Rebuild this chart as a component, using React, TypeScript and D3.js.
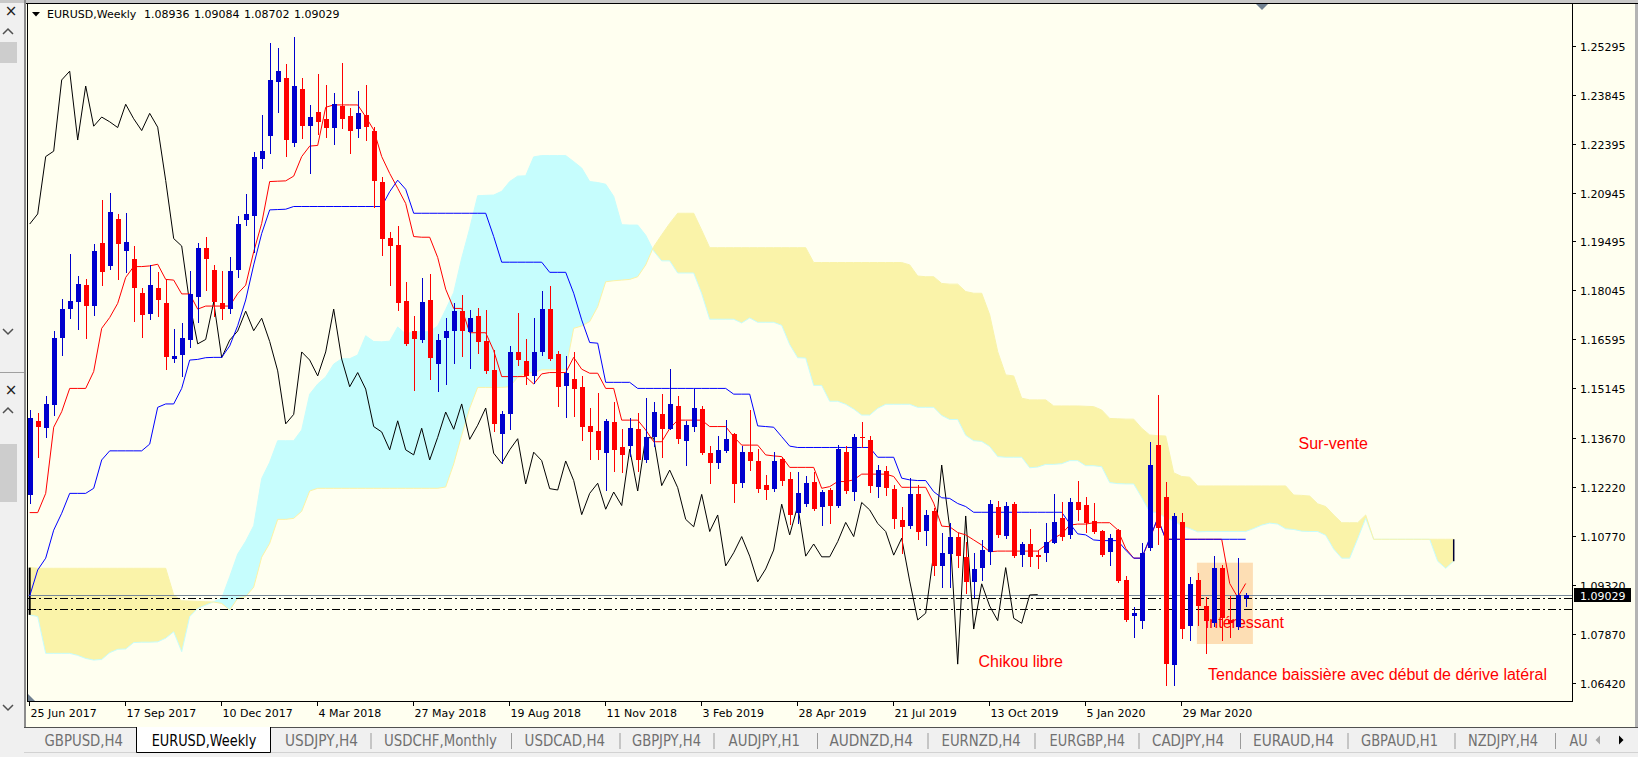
import React from "react";
import * as d3 from "d3";

// ---------- DATA (EURUSD Weekly, bar 0 = week of 25 Jun 2017) ----------
const opens = [
  1.1198, 1.1417, 1.1396, 1.1465, 1.1662, 1.1748, 1.1771, 1.182, 1.1759, 1.1945,
  1.1878, 1.2015, 1.1922, 1.1896, 1.1796, 1.1735, 1.1811, 1.1766, 1.1602, 1.1612,
  1.1656, 1.1786, 1.1929, 1.1865, 1.1766, 1.175, 1.1865, 1.2013, 1.2026, 1.2194,
  1.2262, 1.2423, 1.2434, 1.2242, 1.2401, 1.2291, 1.2333, 1.2313, 1.2287, 1.2351,
  1.232, 1.2282, 1.2324, 1.2277, 1.2125, 1.1959, 1.1939, 1.1773, 1.1684, 1.1657,
  1.1776, 1.1586, 1.1662, 1.1685, 1.1743, 1.1682, 1.1729, 1.1655, 1.1569, 1.1379,
  1.1438, 1.1622, 1.1596, 1.1551, 1.1621, 1.1749, 1.1616, 1.1521, 1.1542, 1.1517,
  1.1404, 1.1388, 1.1324, 1.1414, 1.1341, 1.1342, 1.1393, 1.1302, 1.1369, 1.1438,
  1.1395, 1.1462, 1.1359, 1.1401, 1.1453, 1.1324, 1.1292, 1.133, 1.1379, 1.1235,
  1.1325, 1.1299, 1.1228, 1.1215, 1.1305, 1.1246, 1.1146, 1.1172, 1.1237, 1.1162,
  1.1213, 1.1166, 1.1325, 1.1208, 1.1371, 1.1361, 1.1223, 1.127, 1.1215, 1.1124,
  1.1106, 1.12, 1.1092, 1.1151, 1.0988, 1.1023, 1.1075, 1.1013, 1.0941, 1.0981,
  1.103, 1.1162, 1.1077, 1.1171, 1.102, 1.1053, 1.102, 1.1025, 1.1057, 1.1129,
  1.1079, 1.1176, 1.1168, 1.1121, 1.1092, 1.103, 1.1095, 1.0946, 1.084, 1.0826,
  1.1042, 1.1346, 1.1193, 1.0694, 1.1119, 1.081, 1.0946, 1.0869, 1.0818, 1.0983,
  1.0828, 1.0808, 1.08936,
];
const highs = [
  1.145, 1.144, 1.1491, 1.1684, 1.1778, 1.1912, 1.1847, 1.1838, 1.1942, 1.2072,
  1.2092, 1.2031, 1.2035, 1.1936, 1.1813, 1.188, 1.1859, 1.1837, 1.169, 1.1707,
  1.1862, 1.1944, 1.1962, 1.1879, 1.1862, 1.1902, 1.2025, 1.209, 1.2216, 1.2324,
  1.2538, 1.2523, 1.2475, 1.2556, 1.2434, 1.2353, 1.2446, 1.2413, 1.239, 1.2479,
  1.2345, 1.2396, 1.2413, 1.2288, 1.2141, 1.1977, 1.1995, 1.1829, 1.1728, 1.1842,
  1.1852, 1.1675, 1.1724, 1.1766, 1.1791, 1.1746, 1.1751, 1.1746, 1.1628, 1.1447,
  1.164, 1.1737, 1.1659, 1.1724, 1.1803, 1.1818, 1.1626, 1.161, 1.1622, 1.1551,
  1.1457, 1.1501, 1.1422, 1.1474, 1.1393, 1.1425, 1.1442, 1.1486, 1.1474, 1.1498,
  1.1572, 1.1492, 1.1418, 1.1512, 1.1462, 1.1343, 1.1373, 1.142, 1.1381, 1.1343,
  1.145, 1.1334, 1.1258, 1.1325, 1.1312, 1.1267, 1.1267, 1.1254, 1.1266, 1.1213,
  1.1218, 1.1346, 1.1342, 1.1378, 1.1415, 1.1373, 1.1287, 1.1284, 1.1228, 1.1162,
  1.125, 1.1228, 1.1154, 1.1159, 1.1087, 1.1114, 1.1087, 1.106, 1.1025, 1.1065,
  1.1183, 1.1181, 1.1176, 1.1176, 1.106, 1.1097, 1.1033, 1.1116, 1.12, 1.1177,
  1.1188, 1.1241, 1.1193, 1.1174, 1.1095, 1.1083, 1.1097, 1.0958, 1.0865, 1.1055,
  1.1356, 1.1495, 1.1238, 1.1146, 1.1144, 1.0956, 1.0966, 1.0897, 1.1017, 1.0991,
  1.0899, 1.1011, 1.09084,
];
const lows = [
  1.1174, 1.1312, 1.1371, 1.1435, 1.1613, 1.1722, 1.1689, 1.1662, 1.1731, 1.182,
  1.1867, 1.1837, 1.186, 1.1715, 1.1667, 1.1719, 1.173, 1.1573, 1.1593, 1.1551,
  1.1636, 1.1712, 1.1807, 1.1729, 1.1719, 1.1737, 1.1845, 1.1998, 1.1919, 1.2166,
  1.2213, 1.2334, 1.2203, 1.2232, 1.2256, 1.2153, 1.2268, 1.226, 1.2238, 1.2285,
  1.2213, 1.226, 1.225, 1.2053, 1.1909, 1.182, 1.1746, 1.1643, 1.1509, 1.1652,
  1.1542, 1.1507, 1.1526, 1.159, 1.161, 1.1574, 1.162, 1.1559, 1.1389, 1.1294,
  1.1395, 1.1583, 1.1527, 1.1531, 1.1613, 1.1598, 1.1462, 1.143, 1.1432, 1.1361,
  1.1304, 1.1304, 1.1213, 1.127, 1.1267, 1.1314, 1.127, 1.1297, 1.1342, 1.131,
  1.1393, 1.1353, 1.1287, 1.1389, 1.132, 1.1235, 1.1277, 1.1327, 1.1176, 1.1221,
  1.1272, 1.1208, 1.1185, 1.1211, 1.1228, 1.1112, 1.1114, 1.1166, 1.1154, 1.1109,
  1.1116, 1.1162, 1.1203, 1.1183, 1.1341, 1.1208, 1.1193, 1.1198, 1.1101, 1.1027,
  1.1101, 1.1067, 1.105, 1.0961, 1.0927, 1.0927, 1.0986, 1.0907, 1.0897, 1.0946,
  1.0993, 1.1075, 1.107, 1.1015, 1.0989, 1.0988, 1.0981, 1.1004, 1.1055, 1.1065,
  1.107, 1.1124, 1.109, 1.1085, 1.1017, 1.0991, 1.094, 1.0826, 1.0778, 1.0803,
  1.1035, 1.1053, 1.0635, 1.0635, 1.0774, 1.0769, 1.0813, 1.0729, 1.081, 1.0769,
  1.0777, 1.08, 1.08702,
];
const closes = [
  1.1425, 1.1401, 1.1468, 1.1662, 1.1749, 1.1773, 1.1823, 1.1759, 1.1921, 1.186,
  1.2036, 1.1942, 1.1948, 1.1812, 1.1731, 1.182, 1.1776, 1.1608, 1.161, 1.1662,
  1.1794, 1.193, 1.1897, 1.1771, 1.175, 1.1862, 1.2001, 1.2031, 1.2201, 1.2217,
  1.2428, 1.2454, 1.225, 1.241, 1.2291, 1.2318, 1.2304, 1.2287, 1.2356, 1.2313,
  1.2278, 1.2329, 1.2288, 1.213, 1.1958, 1.1936, 1.1766, 1.1646, 1.1659, 1.177,
  1.1605, 1.1657, 1.1684, 1.1743, 1.1685, 1.1722, 1.1653, 1.1566, 1.1409, 1.1437,
  1.1622, 1.1598, 1.1551, 1.1622, 1.1749, 1.1601, 1.1519, 1.1561, 1.1512, 1.1401,
  1.1385, 1.1332, 1.1418, 1.1332, 1.1317, 1.1396, 1.1302, 1.1369, 1.1444, 1.1393,
  1.1468, 1.1363, 1.1405, 1.1456, 1.1322, 1.1292, 1.1332, 1.1365, 1.1231, 1.1325,
  1.13, 1.1217, 1.1213, 1.1299, 1.1241, 1.114, 1.1203, 1.1233, 1.1156, 1.1207,
  1.1167, 1.1334, 1.121, 1.1369, 1.1367, 1.1226, 1.1272, 1.122, 1.1126, 1.1104,
  1.12, 1.109, 1.1139, 1.0988, 1.1027, 1.1075, 1.1017, 1.0941, 1.0979, 1.1035,
  1.1171, 1.108, 1.1166, 1.1017, 1.1053, 1.1015, 1.1015, 1.106, 1.1117, 1.1075,
  1.1176, 1.1154, 1.1114, 1.109, 1.102, 1.107, 1.0943, 1.0828, 1.0848, 1.1025,
  1.1287, 1.1101, 1.0697, 1.1136, 1.0801, 1.0935, 1.0869, 1.0826, 1.0983, 1.0833,
  1.0818, 1.0902, 1.09029,
];
const tenkan = [
  1.1146, 1.1146, 1.1203, 1.1399, 1.1445, 1.1514, 1.1514, 1.1514, 1.1564, 1.1692,
  1.1724, 1.1766, 1.1843, 1.1875, 1.1875, 1.1877, 1.1882, 1.1837, 1.1835, 1.1794,
  1.1794, 1.1749, 1.1758, 1.1758, 1.1758, 1.1758, 1.1795, 1.182, 1.1919, 1.2003,
  1.2127, 1.2128, 1.2129, 1.2143, 1.2201, 1.2232, 1.2234, 1.2347, 1.2354, 1.2354,
  1.2354, 1.2354, 1.2319, 1.228, 1.2201, 1.2151, 1.2107, 1.2062, 1.1964, 1.1962,
  1.1962, 1.1902, 1.1808, 1.1751, 1.1751, 1.1679, 1.1679, 1.1679, 1.1626, 1.1549,
  1.1549, 1.1549, 1.1549, 1.1527, 1.1557, 1.1561, 1.1561, 1.1561, 1.1606, 1.1571,
  1.1559, 1.1559, 1.1514, 1.1514, 1.142, 1.142, 1.142, 1.1391, 1.1356, 1.1356,
  1.1395, 1.142, 1.142, 1.142, 1.142, 1.1401, 1.1401, 1.1401, 1.1371, 1.1346,
  1.1346, 1.1346, 1.1317, 1.1314, 1.1312, 1.128, 1.128, 1.128, 1.128, 1.1218,
  1.1223, 1.1238, 1.1238, 1.1243, 1.126, 1.126, 1.126, 1.126, 1.1253, 1.1221,
  1.1221, 1.1221, 1.1221, 1.1174, 1.1106, 1.1104, 1.1087, 1.108, 1.1065, 1.105,
  1.103, 1.1032, 1.1032, 1.1032, 1.1032, 1.1032, 1.1032, 1.105, 1.107, 1.1083,
  1.1109, 1.1112, 1.1112, 1.1116, 1.1116, 1.1116, 1.1095, 1.104, 1.1011, 1.1011,
  1.1067, 1.1129, 1.1067, 1.1067, 1.1067, 1.1067, 1.1067, 1.1067, 1.1067, 1.1067,
  1.0936, 1.0895, 1.0936,
];
const kijun = [
  1.0899, 1.0976, 1.1011, 1.1094, 1.1144, 1.1203, 1.1203, 1.1203, 1.1218, 1.1302,
  1.1329, 1.1329, 1.1329, 1.1329, 1.1329, 1.1349, 1.1458, 1.1468, 1.1468, 1.1514,
  1.1598, 1.16, 1.1605, 1.1606, 1.1606, 1.164, 1.17, 1.1776, 1.188, 1.1973,
  1.2043, 1.2044, 1.2045, 1.2053, 1.2053, 1.2053, 1.2053, 1.2053, 1.2053, 1.2053,
  1.2053, 1.2053, 1.2053, 1.2053, 1.2053, 1.2097, 1.2131, 1.2104, 1.2033, 1.2033,
  1.2033, 1.2033, 1.2033, 1.2033, 1.2033, 1.2033, 1.2033, 1.2033, 1.1964, 1.1888,
  1.1888, 1.1888, 1.1888, 1.1888, 1.1888, 1.1858, 1.1858, 1.1858, 1.1796, 1.1717,
  1.165, 1.1648, 1.1532, 1.1532, 1.1532, 1.1532, 1.1514, 1.1514, 1.1514, 1.1514,
  1.1514, 1.1514, 1.1514, 1.1514, 1.1514, 1.1514, 1.1514, 1.1514, 1.1497, 1.1497,
  1.1497, 1.1403, 1.1401, 1.1399, 1.1371, 1.1343, 1.1339, 1.1339, 1.1339, 1.1339,
  1.1339, 1.1339, 1.1339, 1.1339, 1.1339, 1.1339, 1.131, 1.131, 1.131, 1.1248,
  1.1243, 1.1241, 1.1241, 1.1208, 1.119, 1.1188, 1.1173, 1.1164, 1.1147, 1.1147,
  1.1147, 1.1147, 1.1147, 1.1147, 1.1147, 1.1147, 1.1147, 1.1147, 1.1147, 1.1147,
  1.1114, 1.1083, 1.108, 1.1065, 1.1063, 1.1063, 1.1063, 1.1035, 1.1011, 1.1011,
  1.107, 1.1129, 1.1067, 1.1067, 1.1067, 1.1067, 1.1067, 1.1067, 1.1067, 1.1067,
  1.1067, 1.1067, 1.1067,
];
// Senkou spans, plotted 26 bars ahead (index 0 .. 178)
const senkouA = [
  1.0843, 1.0838, 1.0729, 1.0729, 1.0729, 1.0729, 1.0723, 1.0714, 1.0709, 1.0711,
  1.0731, 1.0741, 1.0742, 1.0761, 1.0762, 1.0762, 1.0763, 1.0774, 1.0793, 1.0734,
  1.0838, 1.0862, 1.0872, 1.0882, 1.0892, 1.0956, 1.1023, 1.1061, 1.1107, 1.1247,
  1.1295, 1.1359, 1.1359, 1.1359, 1.1391, 1.1497, 1.1527, 1.1548, 1.1586, 1.1602,
  1.1602, 1.1613, 1.167, 1.1653, 1.1652, 1.1654, 1.1696, 1.1675, 1.1682, 1.1682,
  1.1682, 1.1699, 1.1748, 1.1798, 1.19, 1.1988, 1.2085, 1.2086, 1.2087, 1.2098,
  1.2127, 1.2143, 1.2144, 1.22, 1.2204, 1.2204, 1.2204, 1.2204, 1.2186, 1.2167,
  1.2127, 1.2124, 1.2119, 1.2083, 1.1999, 1.1998, 1.1998, 1.1968, 1.1921, 1.1892,
  1.1892, 1.1856, 1.1856, 1.1856, 1.1795, 1.1719, 1.1719, 1.1719, 1.1719, 1.1708,
  1.1723, 1.171, 1.171, 1.171, 1.1701, 1.1644, 1.1605, 1.1604, 1.1523, 1.1523,
  1.1476, 1.1476, 1.1467, 1.1453, 1.1435, 1.1435, 1.1455, 1.1467, 1.1467, 1.1467,
  1.1467, 1.1458, 1.1458, 1.1458, 1.1434, 1.1422, 1.1422, 1.1375, 1.1359, 1.1357,
  1.1342, 1.1312, 1.131, 1.131, 1.131, 1.1279, 1.1281, 1.1289, 1.1289, 1.1291,
  1.13, 1.13, 1.1285, 1.1285, 1.1282, 1.1235, 1.1232, 1.1231, 1.1231, 1.1191,
  1.1148, 1.1146, 1.113, 1.1122, 1.1106, 1.1099, 1.1089, 1.109, 1.109, 1.109,
  1.109, 1.109, 1.109, 1.1099, 1.1109, 1.1115, 1.1112, 1.1098, 1.1096, 1.1091,
  1.109, 1.109, 1.1079, 1.1038, 1.1011, 1.1011, 1.1069, 1.1129, 1.1067, 1.1067,
  1.1067, 1.1067, 1.1067, 1.1067, 1.1067, 1.1067, 1.1002, 1.0981, 1.1002,
];
const senkouB = [
  1.0983, 1.0981, 1.0981, 1.0981, 1.0981, 1.0981, 1.0981, 1.0981, 1.0981, 1.0981,
  1.0981, 1.0981, 1.0981, 1.0981, 1.0981, 1.0981, 1.0981, 1.0981, 1.0902, 1.0885,
  1.0884, 1.0883, 1.0882, 1.0881, 1.0877, 1.0857, 1.0892, 1.0897, 1.0925, 1.1014,
  1.1055, 1.1126, 1.1126, 1.1129, 1.115, 1.121, 1.1218, 1.1218, 1.1218, 1.1218,
  1.1218, 1.1218, 1.1218, 1.1218, 1.1218, 1.1218, 1.1218, 1.1218, 1.1218, 1.1218,
  1.1218, 1.1218, 1.1222, 1.129, 1.1375, 1.1455, 1.1517, 1.1517, 1.1517, 1.1517,
  1.1519, 1.1547, 1.1559, 1.1561, 1.1569, 1.1569, 1.1569, 1.1569, 1.1692, 1.1699,
  1.1712, 1.1756, 1.183, 1.1833, 1.1835, 1.1837, 1.1845, 1.188, 1.1934, 1.1969,
  1.2003, 1.2033, 1.2033, 1.2033, 1.1983, 1.1931, 1.1931, 1.1931, 1.1931, 1.1931,
  1.1931, 1.1931, 1.1931, 1.1931, 1.1931, 1.1931, 1.1931, 1.1931, 1.1887, 1.1887,
  1.1887, 1.1887, 1.1887, 1.1887, 1.1887, 1.1887, 1.1887, 1.1887, 1.1887, 1.1887,
  1.188, 1.1847, 1.1845, 1.1845, 1.1825, 1.1823, 1.1823, 1.1801, 1.1796, 1.1796,
  1.1732, 1.1623, 1.1554, 1.1551, 1.1485, 1.148, 1.148, 1.148, 1.1462, 1.1462,
  1.1462, 1.1462, 1.1461, 1.146, 1.145, 1.1425, 1.1424, 1.1423, 1.1423, 1.1396,
  1.1376, 1.1374, 1.1373, 1.1264, 1.1253, 1.1251, 1.1225, 1.1225, 1.1225, 1.1225,
  1.1225, 1.1225, 1.1225, 1.1225, 1.1225, 1.1225, 1.1225, 1.1225, 1.1198, 1.1197,
  1.1195, 1.1172, 1.1164, 1.1139, 1.1116, 1.1116, 1.1116, 1.1139, 1.1067, 1.1067,
  1.1067, 1.1067, 1.1067, 1.1067, 1.1067, 1.1067, 1.1067, 1.1067, 1.1067,
];
const chikouShift = 26;

const priceTicks = [
  1.25295, 1.23845, 1.22395, 1.20945, 1.19495, 1.18045, 1.16595,
  1.15145, 1.1367, 1.1222, 1.1077, 1.0932, 1.0787, 1.0642,
];
const dateLabels = [
  "25 Jun 2017", "17 Sep 2017", "10 Dec 2017", "4 Mar 2018", "27 May 2018",
  "19 Aug 2018", "11 Nov 2018", "3 Feb 2019", "28 Apr 2019", "21 Jul 2019",
  "13 Oct 2019", "5 Jan 2020", "29 Mar 2020",
];
const dateBars = [0, 12, 24, 36, 48, 60, 72, 84, 96, 108, 120, 132, 144];
const headerSymbol = "EURUSD,Weekly";
const headerOHLC = ["1.08936", "1.09084", "1.08702", "1.09029"];
const bidPrice = 1.09029;
const supportLevels = [1.0892, 1.0859];
const annotations = [
  { text: "Sur-vente", bar: 158.6, price: 1.13336 },
  { text: "Intéressant", bar: 146.9, price: 1.08032 },
  { text: "Tendance baissière avec début de dérive latéral", bar: 147.3, price: 1.06501 },
  { text: "Chikou libre", bar: 118.6, price: 1.06886 },
];
const zoneBars = [145.9, 152.9];
const zonePrices = [1.09976, 1.07567];
const tabLabels = [
  "GBPUSD,H4", "EURUSD,Weekly", "USDJPY,H4", "USDCHF,Monthly", "USDCAD,H4",
  "GBPJPY,H4", "AUDJPY,H1", "AUDNZD,H4", "EURNZD,H4", "EURGBP,H4",
  "CADJPY,H4", "EURAUD,H4", "GBPAUD,H1", "NZDJPY,H4", "AU",
];

// ---------- LAYOUT ----------
const W = 1638;
const H = 757;
const PL = 28, PT = 4, PR = 1572, PB = 701;
const tabX = [44.5, 151.7, 285, 384, 524.6, 632, 728.6, 829.4, 941.5, 1049.5, 1152, 1253, 1361, 1468, 1569.6];
const tabW = [78.5, 104.6, 73, 113, 80.4, 69, 71.4, 83.5, 79.3, 75.5, 72, 81, 77, 70, 18];
const tabSeps = [371, 511.5, 620, 714, 817.5, 928, 1035, 1139, 1240.5, 1348, 1455, 1555.5];

const AXF = "'DejaVu Sans', Verdana, sans-serif";
const ANF = "'Liberation Sans', Arial, sans-serif";
const IVORY = "#FFFFF0";
const CYAN = "#C6FDFD";
const YEL = "#FAF3A9";
const BULL = "#0000CD";
const BEAR = "#FF0000";

export default function App() {
  const x = d3.scaleLinear().domain([0, 1]).range([29.7, 37.7]);
  const y = d3.scaleLinear().domain([1.0642, 1.25295]).range([682.7, 45.7]);

  const line = d3
    .line<number>()
    .x((_, i) => x(i))
    .y((d) => y(d));
  const chikou = closes.slice(chikouShift);
  const band = d3
    .area<number>()
    .x((_, i) => x(i))
    .y0((_, i) => y(senkouB[i]))
    .y1((d) => y(d));
  const aboveB = d3
    .area<number>()
    .x((_, i) => x(i))
    .y0(0)
    .y1((d) => y(d));
  const belowB = d3
    .area<number>()
    .x((_, i) => x(i))
    .y0(H)
    .y1((d) => y(d));

  const lastCloud = senkouA.length - 1;
  const bidY = Math.round(y(bidPrice)) + 0.5;

  const candles = opens.map((o, i) => {
    const c = closes[i];
    const cx = Math.round(x(i));
    const yh = Math.round(y(highs[i]));
    const yl = Math.round(y(lows[i]));
    const yt = Math.round(y(Math.max(o, c)));
    const yb = Math.round(y(Math.min(o, c)));
    const col = c >= o ? BULL : BEAR;
    return (
      <g key={i} fill={col}>
        <rect x={cx} y={yh} width={1} height={Math.max(1, yl - yh + 1)} />
        <rect x={cx - 2} y={yt} width={5} height={Math.max(1, yb - yt)} />
      </g>
    );
  });

  return (
    <svg
      width={W}
      height={H}
      viewBox={`0 0 ${W} ${H}`}
      style={{ position: "absolute", left: 0, top: 0, display: "block" }}
    >
      <defs>
        <clipPath id="plot">
          <rect x={PL} y={PT} width={PR - PL} height={PB - PT} />
        </clipPath>
        <clipPath id="aboveB">
          <path d={aboveB(senkouB) || ""} />
        </clipPath>
        <clipPath id="belowB">
          <path d={belowB(senkouB) || ""} />
        </clipPath>
      </defs>

      {/* window chrome */}
      <rect x={0} y={0} width={W} height={H} fill="#F0F0F0" />
      <rect x={0} y={0} width={W} height={3} fill="#C8C8C8" />
      <rect x={26} y={3} width={1609} height={724} fill={IVORY} />
      <rect x={1635} y={3} width={3} height={724} fill="#B4B4B4" />
      <line x1={26} x2={W} y1={3.5} y2={3.5} stroke="#000" />
      <line x1={25} x2={25} y1={0} y2={727} stroke="#8C8C8C" strokeWidth={2} />

      {/* left panel */}
      <text x={11} y={16} fontFamily={AXF} fontSize={15} textAnchor="middle" fill="#202020">×</text>
      <polyline points="3,34 8,29 13,34" fill="none" stroke="#505050" strokeWidth={1.5} />
      <rect x={0} y={42} width={17} height={21} fill="#CDCDCD" />
      <polyline points="3,329 8,334 13,329" fill="none" stroke="#505050" strokeWidth={1.5} />
      <line x1={0} x2={24} y1={372.5} y2={372.5} stroke="#A0A0A0" />
      <text x={11} y={395} fontFamily={AXF} fontSize={15} textAnchor="middle" fill="#202020">×</text>
      <polyline points="3,413 8,408 13,413" fill="none" stroke="#505050" strokeWidth={1.5} />
      <rect x={0} y={444} width={17} height={58} fill="#CDCDCD" />
      <polyline points="3,705 8,710 13,705" fill="none" stroke="#505050" strokeWidth={1.5} />

      {/* plot */}
      <g clipPath="url(#plot)">
        <g clipPath="url(#aboveB)">
          <path d={band(senkouA) || ""} fill={CYAN} />
        </g>
        <g clipPath="url(#belowB)">
          <path d={band(senkouA) || ""} fill={YEL} />
        </g>
        <path d={line(senkouA) || ""} fill="none" stroke={CYAN} strokeWidth={1} />
        <path d={line(senkouB) || ""} fill="none" stroke={YEL} strokeWidth={1} />
        <line
          x1={x(0)} x2={x(0)} y1={y(senkouB[0])} y2={y(senkouA[0])}
          stroke="#000" strokeWidth={2}
        />
        <line
          x1={x(lastCloud)} x2={x(lastCloud)} y1={y(senkouB[lastCloud])} y2={y(senkouA[lastCloud])}
          stroke="#000030" strokeWidth={1.5}
        />

        {/* rectangle zone */}
        <rect
          x={x(zoneBars[0])}
          y={y(zonePrices[0])}
          width={x(zoneBars[1]) - x(zoneBars[0])}
          height={y(zonePrices[1]) - y(zonePrices[0])}
          fill="#FDDEB4"
        />

        {/* annotations */}
        {annotations.map((a, i) => (
          <text key={i} x={x(a.bar)} y={y(a.price)} fontFamily={ANF} fontSize={16} fill="#FF0000">
            {a.text}
          </text>
        ))}

        {/* horizontal levels */}
        <line x1={PL} x2={PR} y1={bidY} y2={bidY} stroke="#778899" strokeWidth={1} />
        {supportLevels.map((p, i) => (
          <line
            key={i}
            x1={PL}
            x2={PR}
            y1={Math.round(y(p)) + 0.5}
            y2={Math.round(y(p)) + 0.5}
            stroke="#000"
            strokeWidth={1}
            strokeDasharray="8,3,2,3"
          />
        ))}

        {/* ichimoku lines */}
        <path d={line(chikou) || ""} fill="none" stroke="#000" strokeWidth={1} />
        <path d={line(tenkan) || ""} fill="none" stroke="#FF0000" strokeWidth={1} />
        <path d={line(kijun) || ""} fill="none" stroke="#0000FF" strokeWidth={1} />

        {/* candles */}
        <g shapeRendering="crispEdges">{candles}</g>

        {/* markers */}
        <path d="M1256,4 L1268,4 L1262,10 Z" fill="#708090" />
        <path d="M28,694 L28,701 L35,701 Z" fill="#708090" />
      </g>

      {/* frame */}
      <g shapeRendering="crispEdges" stroke="#000" strokeWidth={1}>
        <line x1={27.5} x2={27.5} y1={3} y2={702} />
        <line x1={27} x2={PR + 1} y1={701.5} y2={701.5} />
        <line x1={PR + 0.5} x2={PR + 0.5} y1={3} y2={702} />
      </g>

      {/* header */}
      <path d="M32,12 L40,12 L36,16.5 Z" fill="#000" />
      <text x={47} y={17.5} fontFamily={AXF} fontSize={11} fill="#000">{headerSymbol}</text>
      {headerOHLC.map((v, i) => (
        <text key={i} x={144 + 50 * i} y={17.5} fontFamily={AXF} fontSize={11} fill="#000">{v}</text>
      ))}

      {/* price axis */}
      {priceTicks.map((p, i) => {
        const ty = Math.round(y(p)) + 0.5;
        return (
          <g key={i}>
            <line x1={PR + 1} x2={PR + 4} y1={ty} y2={ty} stroke="#000" />
            <text x={1580} y={ty + 4} fontFamily={AXF} fontSize={11} fill="#000">
              {p.toFixed(5)}
            </text>
          </g>
        );
      })}
      <rect x={1574} y={bidY - 7.5} width={57} height={14} fill="#000" />
      <text x={1580} y={bidY + 4} fontFamily={AXF} fontSize={11} fill="#FFF">
        {bidPrice.toFixed(5)}
      </text>

      {/* time axis */}
      {dateBars.map((b, i) => {
        const tx = Math.round(x(b) - 1) + 0.5;
        return (
          <g key={i}>
            <line x1={tx} x2={tx} y1={702} y2={706} stroke="#000" />
            <text x={tx + 1} y={717} fontFamily={AXF} fontSize={11} fill="#000">
              {dateLabels[i]}
            </text>
          </g>
        );
      })}

      {/* tab bar */}
      <rect x={24} y={727} width={W - 24} height={30} fill="#F0F0F0" />
      <line x1={24} x2={W} y1={727.5} y2={727.5} stroke="#505050" />
      <line x1={24} x2={W} y1={752.5} y2={752.5} stroke="#D2D2D2" />
      <rect x={136} y={727} width={135} height={25} fill="#FFF" />
      <path d="M136.5,727 L136.5,752.5 L270.5,752.5 L270.5,727" fill="none" stroke="#000" />
      {tabSeps.map((sx, i) => (
        <line key={i} x1={sx} x2={sx} y1={733} y2={749} stroke="#9A9A9A" />
      ))}
      {tabLabels.map((t, i) => (
        <text
          key={i}
          x={tabX[i]}
          y={746}
          fontFamily={AXF}
          fontSize={16}
          fill={i === 1 ? "#000" : "#707070"}
          textLength={tabW[i]}
          lengthAdjust="spacingAndGlyphs"
        >
          {t}
        </text>
      ))}
      <path d="M1600,735.5 L1600,744.5 L1595.5,740 Z" fill="#A8A8A8" />
      <path d="M1619,735.5 L1619,744.5 L1623.5,740 Z" fill="#000" />
    </svg>
  );
}
